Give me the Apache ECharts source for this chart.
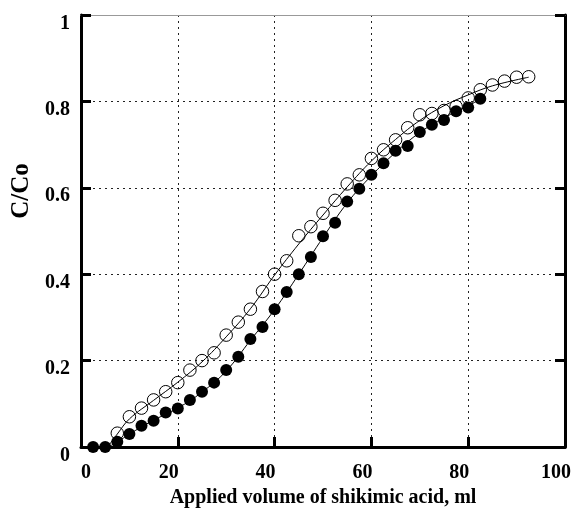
<!DOCTYPE html>
<html>
<head>
<meta charset="utf-8">
<script src="https://cdn.jsdelivr.net/npm/echarts@6/dist/echarts.min.js"></script>
<style>
html,body{margin:0;padding:0;background:#fff;}
#chart{width:584px;height:521px;}
</style>
</head>
<body>
<div id="chart"></div>
<script>
// Filled circles
var filledX = [2.5,5,7.5,10,12.5,15,17.5,20,22.5,25,27.5,30,32.5,35,37.5,40,42.5,45,47.5,50,52.5,55,57.5,60,62.5,65,67.5,70,72.5,75,77.5,80,82.5];
var filledY = [0,0,0.012,0.030,0.049,0.061,0.080,0.089,0.109,0.128,0.149,0.178,0.209,0.250,0.278,0.319,0.359,0.400,0.440,0.488,0.519,0.568,0.598,0.630,0.657,0.686,0.697,0.729,0.746,0.757,0.777,0.786,0.806];
// Open circles
var openX = [7.5,10,12.5,15,17.5,20,22.5,25,27.5,30,32.5,35,37.5,40,42.5,45,47.5,50,52.5,55,57.5,60,62.5,65,67.5,70,72.5,75,77.5,80,82.5,85,87.5,90,92.5];
var openY = [0.032,0.070,0.090,0.109,0.128,0.149,0.178,0.200,0.218,0.259,0.289,0.319,0.360,0.400,0.431,0.489,0.510,0.541,0.571,0.609,0.630,0.668,0.688,0.711,0.739,0.769,0.772,0.779,0.788,0.808,0.827,0.838,0.847,0.856,0.857];
// Fitted curves
var openCurveX = [5.5,7.5,10,15,20,25,30,35,40,45,50,55,60,65,70,75,80,85,92.5];
var openCurveY = [0,0.030,0.065,0.108,0.150,0.197,0.255,0.320,0.398,0.470,0.537,0.602,0.662,0.712,0.756,0.790,0.815,0.836,0.856];
var filledCurveX = [2.5,5,7.5,10,15,20,25,30,35,40,45,50,55,60,65,70,75,80,82.5];
var filledCurveY = [0,0,0.012,0.030,0.062,0.090,0.127,0.176,0.247,0.318,0.400,0.485,0.565,0.628,0.682,0.728,0.762,0.790,0.805];

var xTicks = [0,20,40,60,80,100];
var yTicks = [0,0.2,0.4,0.6,0.8,1];
var xName = 'Applied volume of shikimic acid, ml';
var yName = 'C/Co';

function pairs(xs, ys){ return xs.map(function(x,i){return [x, ys[i]];}); }

var FONT = 'Liberation Serif';
var chart = echarts.init(document.getElementById('chart'), null, {renderer:'canvas'});
var gridLine = {show:true, lineStyle:{color:'#222', type:[2,4], width:1}};
var lbl = {fontFamily:FONT, fontWeight:'bold', fontSize:20, color:'#000'};
chart.setOption({
  animation:false,
  backgroundColor:'#fff',
  grid:{left:81, right:19, top:15, bottom:74, containLabel:false},
  xAxis:[{
    type:'value', min:0, max:100, interval:20, position:'bottom',
    axisLine:{show:true, onZero:false, lineStyle:{color:'#000', width:3}},
    axisTick:{show:true, inside:true, length:10, lineStyle:{color:'#000', width:3}},
    axisLabel:{
      margin:16, color:'#000', fontFamily:FONT, fontWeight:'bold', fontSize:20,
      formatter:function(v){ return v===0 ? '{z|0}' : '{n|'+v+'}'; },
      rich:{z:Object.assign({padding:[0,0,0,10]}, lbl),
            n:Object.assign({padding:[0,18,0,0]}, lbl)}
    },
    splitLine:gridLine,
    name:xName, nameLocation:'middle', nameGap:32,
    nameTextStyle:{color:'#000', fontFamily:FONT, fontWeight:'bold', fontSize:20}
  },{
    type:'value', min:0, max:100, interval:20, position:'top',
    axisLine:{show:true, onZero:false, lineStyle:{color:'#999', width:1}},
    axisTick:{show:false}, axisLabel:{show:false}, splitLine:{show:false}
  }],
  yAxis:[{
    type:'value', min:0, max:1, interval:0.2, position:'left',
    axisLine:{show:true, onZero:false, lineStyle:{color:'#000', width:3}},
    axisTick:{show:true, inside:true, length:10, lineStyle:{color:'#000', width:3}},
    axisLabel:{
      margin:11, color:'#000', fontFamily:FONT, fontWeight:'bold', fontSize:20,
      formatter:function(v){ var s = v===0 ? '0' : (v===1 ? '1' : String(Math.round(v*10)/10)); return '{d|'+s+'}'; },
      rich:{d:Object.assign({padding:[17,0,0,0]}, lbl)}
    },
    splitLine:gridLine
  },{
    type:'value', min:0, max:1, interval:0.2, position:'right',
    axisLine:{show:true, onZero:false, lineStyle:{color:'#000', width:3}},
    axisTick:{show:true, inside:true, length:10, lineStyle:{color:'#000', width:3}},
    axisLabel:{show:false}, splitLine:{show:false}
  }],
  graphic:[{
    type:'text', x:22, y:191, rotation:Math.PI/2,
    style:{text:yName, fill:'#000', font:'bold 25px "Liberation Serif"', textAlign:'center', textVerticalAlign:'middle'}
  }],
  series:[
    {type:'line', data:pairs(openCurveX, openCurveY), smooth:0.4, showSymbol:false, symbol:'none',
     lineStyle:{color:'#000', width:1}, z:2, silent:true},
    {type:'line', data:pairs(filledCurveX, filledCurveY), smooth:0.4, showSymbol:false, symbol:'none',
     lineStyle:{color:'#000', width:1}, z:2, silent:true},
    {type:'scatter', data:pairs(openX, openY), symbol:'circle', symbolSize:12.5,
     itemStyle:{color:'rgba(0,0,0,0)', borderColor:'#000', borderWidth:1, opacity:1}, z:3},
    {type:'scatter', data:pairs(filledX, filledY), symbol:'circle', symbolSize:12,
     itemStyle:{color:'#000', opacity:1}, z:4}
  ]
});
</script>
</body>
</html>
